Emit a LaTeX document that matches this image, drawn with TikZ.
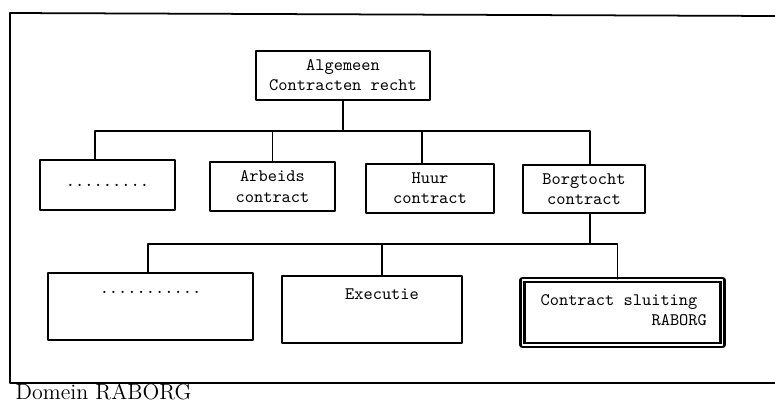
\documentclass[tikz,border=0pt]{standalone}
\begin{document}
\begin{tikzpicture}[x=0.02cm,y=-0.02cm, line join=round, line cap=round, line width=1pt,
	font=\fontsize{10}{11.5}\selectfont\ttfamily,
	box/.style={draw, inner sep=0pt, align=center},
	keuze/.style={box, line width=1.3pt, double, double distance=0.9pt}]
	\def\bus{30} % afstand tot verdeellijn
	\useasboundingbox (0,0) rectangle (775,403);
	\draw (775,16)--(10,13)--(10,383)--(775,383);
	\node[font=\fontsize{12.5}{14}\selectfont\rmfamily, anchor=base west] (cap) at (9,399) {Domein RABORG};
	% niveau 1
	\node[box, minimum width=174*0.02cm, minimum height=49*0.02cm] (alg) at (343,75.5) {Algemeen\\Contracten recht};
	% niveau 2
	\node[box, minimum width=135*0.02cm, minimum height=50*0.02cm] (dots1) at (107.5,185) {.........};
	\node[box, minimum width=125*0.02cm, minimum height=49*0.02cm] (arb) at (272.5,186.5) {Arbeids\\contract};
	\node[box, minimum width=128*0.02cm, minimum height=49*0.02cm] (huur) at (430,188.5) {Huur\\contract};
	\node[box, minimum width=122*0.02cm, minimum height=48*0.02cm] (borg) at (584,189) {Borgtocht\\contract};
	% niveau 3
	\node[box, minimum width=205*0.02cm, minimum height=67*0.02cm] (dots2) at (150.5,306.5) {};
	\node[box, minimum width=180*0.02cm, minimum height=67*0.02cm] (exec) at (372,309.5) {};
	\node[keuze, minimum width=200*0.02cm, minimum height=65*0.02cm] (sluit) at (622.5,312.5) {};
	\node[anchor=north] (t1) at ([yshift=-0.25cm]dots2.north) {...........};
	\node[anchor=north] (t2) at ([xshift=0.2cm,yshift=-0.14cm]exec.north) {Executie};
	\node[anchor=north west] (t3) at ([xshift=0.25cm,yshift=-0.18cm]sluit.north west) {Contract sluiting};
	\node[anchor=south east] (t4) at ([xshift=-0.2cm,yshift=0.28cm]sluit.south east) {RABORG};
	% verbindingen
	\draw (alg.south) -- ++(0,\bus) -| ([xshift=-0.25cm]dots1.north);
	\draw (alg.south) -- ++(0,\bus) -| (arb.north);
	\draw (alg.south) -- ++(0,\bus) -| ([xshift=-0.16cm]huur.north);
	\draw (alg.south) -- ++(0,\bus) -| ([xshift=0.12cm]borg.north);
	\draw ([xshift=0.12cm]borg.south) -- ++(0,\bus) -| ([xshift=-0.05cm]dots2.north);
	\draw ([xshift=0.12cm]borg.south) -- ++(0,\bus) -| ([xshift=0.2cm]exec.north);
	\draw ([xshift=0.12cm]borg.south) -- ++(0,\bus) -| ([xshift=-0.1cm]sluit.north);
\end{tikzpicture}
\end{document}
